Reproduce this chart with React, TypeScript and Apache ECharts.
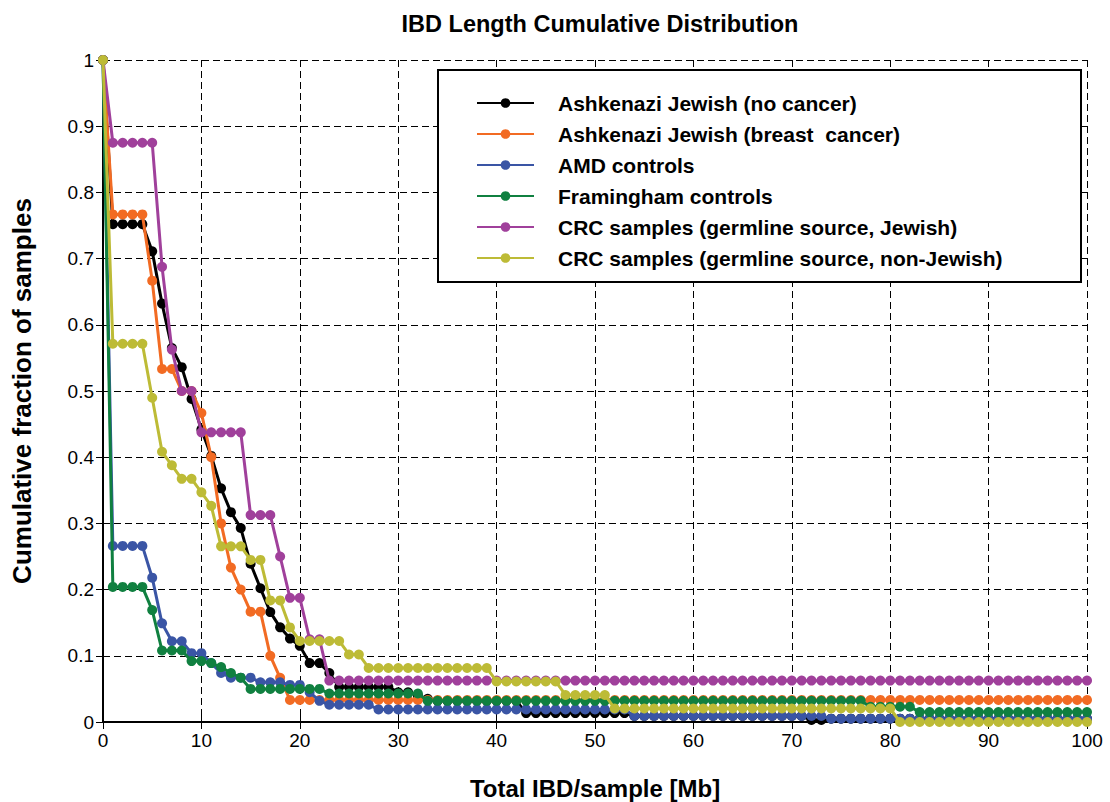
import React, { useEffect, useRef } from "react";
import * as echarts from "echarts";

const seriesNames = [
  "Ashkenazi Jewish (no cancer)",
  "Ashkenazi Jewish (breast  cancer)",
  "AMD controls",
  "Framingham controls",
  "CRC samples (germline source, Jewish)",
  "CRC samples (germline source, non-Jewish)",
];
const seriesColors = ["#000000", "#f26b23", "#3a55a5", "#108040", "#a0409b", "#bdbb36"];

const xTicks = [0, 10, 20, 30, 40, 50, 60, 70, 80, 90, 100];
const yTicks = [0, 0.1, 0.2, 0.3, 0.4, 0.5, 0.6, 0.7, 0.8, 0.9, 1];

// values at x = 0, 1, 2, ... 100 Mb
const ashkenaziNoCancer = [
  1, 0.752, 0.752, 0.752, 0.752, 0.711, 0.632, 0.565, 0.536, 0.488,
  0.442, 0.402, 0.353, 0.317, 0.293, 0.239, 0.202, 0.166, 0.143, 0.126,
  0.115, 0.089, 0.089, 0.074, 0.053, 0.053, 0.053, 0.053, 0.053, 0.053,
  0.045, 0.045, 0.04, 0.035, 0.032, 0.032, 0.032, 0.032, 0.032, 0.032,
  0.032, 0.032, 0.032, 0.0135, 0.0135, 0.0135, 0.0135, 0.0135, 0.0135, 0.0135,
  0.0135, 0.0135, 0.0135, 0.0135, 0.009, 0.009, 0.009, 0.009, 0.009, 0.009,
  0.009, 0.009, 0.009, 0.009, 0.009, 0.009, 0.009, 0.009, 0.009, 0.009,
  0.009, 0.009, 0.003, 0.003, 0.005, 0.005, 0.005, 0.005, 0.005, 0.005,
  0.005, 0.005, 0.005, 0.005, 0.005, 0.005, 0.005, 0.005, 0.005, 0.005,
  0.005, 0.005, 0.005, 0.005, 0.005, 0.005, 0.005, 0.005, 0.005, 0.005,
  0.005,
];
const ashkenaziBreastCancer = [
  1, 0.7667, 0.7667, 0.7667, 0.7667, 0.6667, 0.5333, 0.5333, 0.5, 0.5,
  0.4667, 0.4, 0.3, 0.2333, 0.2, 0.1667, 0.1667, 0.1, 0.0667, 0.0333,
  0.0333, 0.0333, 0.0333, 0.0333, 0.0333, 0.0333, 0.0333, 0.0333, 0.0333, 0.0333,
  0.0333, 0.0333, 0.0333, 0.0333, 0.0333, 0.0333, 0.0333, 0.0333, 0.0333, 0.0333,
  0.0333, 0.0333, 0.0333, 0.0333, 0.0333, 0.0333, 0.0333, 0.0333, 0.0333, 0.0333,
  0.0333, 0.0333, 0.0333, 0.0333, 0.0333, 0.0333, 0.0333, 0.0333, 0.0333, 0.0333,
  0.0333, 0.0333, 0.0333, 0.0333, 0.0333, 0.0333, 0.0333, 0.0333, 0.0333, 0.0333,
  0.0333, 0.0333, 0.0333, 0.0333, 0.0333, 0.0333, 0.0333, 0.0333, 0.0333, 0.0333,
  0.0333, 0.0333, 0.0333, 0.0333, 0.0333, 0.0333, 0.0333, 0.0333, 0.0333, 0.0333,
  0.0333, 0.0333, 0.0333, 0.0333, 0.0333, 0.0333, 0.0333, 0.0333, 0.0333, 0.0333,
  0.0333,
];
const amdControls = [
  1, 0.266, 0.266, 0.266, 0.266, 0.218, 0.149, 0.122, 0.122, 0.104,
  0.104, 0.089, 0.074, 0.067, 0.067, 0.067, 0.06, 0.06, 0.06, 0.056,
  0.056, 0.045, 0.032, 0.026, 0.026, 0.026, 0.026, 0.026, 0.019, 0.019,
  0.019, 0.019, 0.019, 0.019, 0.019, 0.019, 0.019, 0.019, 0.019, 0.019,
  0.019, 0.019, 0.019, 0.019, 0.019, 0.019, 0.019, 0.019, 0.019, 0.019,
  0.019, 0.019, 0.019, 0.019, 0.009, 0.009, 0.009, 0.009, 0.009, 0.009,
  0.009, 0.009, 0.009, 0.009, 0.009, 0.009, 0.009, 0.009, 0.009, 0.009,
  0.009, 0.009, 0.009, 0.009, 0.005, 0.005, 0.005, 0.005, 0.005, 0.005,
  0.005, 0.005, 0.005, 0.005, 0.005, 0.005, 0.005, 0.005, 0.005, 0.005,
  0.005, 0.005, 0.005, 0.005, 0.005, 0.005, 0.005, 0.005, 0.005, 0.005,
  0.005,
];
const framinghamControls = [
  1, 0.204, 0.204, 0.204, 0.204, 0.169, 0.108, 0.108, 0.108, 0.092,
  0.092, 0.089, 0.083, 0.074, 0.067, 0.05, 0.05, 0.05, 0.05, 0.05,
  0.05, 0.05, 0.05, 0.043, 0.043, 0.043, 0.043, 0.043, 0.043, 0.043,
  0.043, 0.043, 0.043, 0.032, 0.032, 0.032, 0.032, 0.032, 0.032, 0.032,
  0.032, 0.032, 0.032, 0.032, 0.032, 0.032, 0.032, 0.032, 0.032, 0.032,
  0.032, 0.032, 0.032, 0.032, 0.032, 0.032, 0.032, 0.032, 0.032, 0.032,
  0.032, 0.032, 0.032, 0.032, 0.032, 0.032, 0.032, 0.032, 0.032, 0.032,
  0.032, 0.032, 0.032, 0.032, 0.032, 0.032, 0.032, 0.032, 0.023, 0.023,
  0.023, 0.023, 0.023, 0.015, 0.015, 0.015, 0.015, 0.015, 0.015, 0.015,
  0.015, 0.015, 0.015, 0.015, 0.015, 0.015, 0.015, 0.015, 0.015, 0.015,
  0.015,
];
const crcJewish = [
  1, 0.875, 0.875, 0.875, 0.875, 0.875, 0.6875, 0.5625, 0.5, 0.5,
  0.4375, 0.4375, 0.4375, 0.4375, 0.4375, 0.3125, 0.3125, 0.3125, 0.25, 0.1875,
  0.1875, 0.125, 0.125, 0.0625, 0.0625, 0.0625, 0.0625, 0.0625, 0.0625, 0.0625,
  0.0625, 0.0625, 0.0625, 0.0625, 0.0625, 0.0625, 0.0625, 0.0625, 0.0625, 0.0625,
  0.0625, 0.0625, 0.0625, 0.0625, 0.0625, 0.0625, 0.0625, 0.0625, 0.0625, 0.0625,
  0.0625, 0.0625, 0.0625, 0.0625, 0.0625, 0.0625, 0.0625, 0.0625, 0.0625, 0.0625,
  0.0625, 0.0625, 0.0625, 0.0625, 0.0625, 0.0625, 0.0625, 0.0625, 0.0625, 0.0625,
  0.0625, 0.0625, 0.0625, 0.0625, 0.0625, 0.0625, 0.0625, 0.0625, 0.0625, 0.0625,
  0.0625, 0.0625, 0.0625, 0.0625, 0.0625, 0.0625, 0.0625, 0.0625, 0.0625, 0.0625,
  0.0625, 0.0625, 0.0625, 0.0625, 0.0625, 0.0625, 0.0625, 0.0625, 0.0625, 0.0625,
  0.0625,
];
const crcNonJewish = [
  1, 0.5714, 0.5714, 0.5714, 0.5714, 0.4898, 0.4082, 0.3878, 0.3673, 0.3673,
  0.3469, 0.3265, 0.2653, 0.2653, 0.2653, 0.2449, 0.2449, 0.1837, 0.1837, 0.1429,
  0.1224, 0.1224, 0.1224, 0.1224, 0.1224, 0.102, 0.102, 0.0816, 0.0816, 0.0816,
  0.0816, 0.0816, 0.0816, 0.0816, 0.0816, 0.0816, 0.0816, 0.0816, 0.0816, 0.0816,
  0.0612, 0.0612, 0.0612, 0.0612, 0.0612, 0.0612, 0.0612, 0.0408, 0.0408, 0.0408,
  0.0408, 0.0408, 0.0204, 0.0204, 0.0204, 0.0204, 0.0204, 0.0204, 0.0204, 0.0204,
  0.0204, 0.0204, 0.0204, 0.0204, 0.0204, 0.0204, 0.0204, 0.0204, 0.0204, 0.0204,
  0.0204, 0.0204, 0.0204, 0.0204, 0.0204, 0.0204, 0.0204, 0.0204, 0.0204, 0.0204,
  0.0204, 0, 0, 0, 0, 0, 0, 0, 0, 0,
  0, 0, 0, 0, 0, 0, 0, 0, 0, 0,
  0,
];

const seriesValues = [
  ashkenaziNoCancer,
  ashkenaziBreastCancer,
  amdControls,
  framinghamControls,
  crcJewish,
  crcNonJewish,
];

export default function App() {
  const ref = useRef<HTMLDivElement>(null);

  useEffect(() => {
    if (!ref.current) return;
    const chart = echarts.init(ref.current, null, { renderer: "svg" });
    const font = "'Liberation Sans', Arial, sans-serif";
    const gridLine = { show: true, lineStyle: { color: "#000", width: 1, type: [7, 4] } };

    chart.setOption({
      animation: false,
      backgroundColor: "#fff",
      title: {
        text: "IBD Length Cumulative Distribution",
        left: 595,
        top: 7,
        textAlign: "center",
        textStyle: { fontFamily: font, fontWeight: "bold", fontSize: 23.5, color: "#000" },
      },
      grid: { left: 103, right: 23, top: 60, bottom: 80, containLabel: false, outerBoundsMode: "none" },
      legend: {
        show: true,
        orient: "vertical",
        left: 476,
        top: 92,
        itemWidth: 57,
        itemHeight: 12,
        itemGap: 9,
        padding: 0,
        z: 10,
        data: seriesNames,
        textStyle: {
          fontFamily: font,
          fontWeight: "bold",
          fontSize: 21,
          lineHeight: 22,
          color: "#000",
          padding: [0, 0, 0, 19],
        },
      },
      graphic: [
        {
          type: "rect",
          left: 437,
          top: 69,
          z: 5,
          shape: { width: 643, height: 212 },
          style: { fill: "#fff", stroke: "#000", lineWidth: 2 },
        },
      ],
      xAxis: [
        {
          type: "value",
          min: 0,
          max: 100,
          interval: 10,
          name: "Total IBD/sample [Mb]",
          nameLocation: "middle",
          nameGap: 54,
          nameTextStyle: { fontFamily: font, fontWeight: "bold", fontSize: 24, color: "#000" },
          axisLine: { show: true, lineStyle: { color: "#000", width: 2 } },
          axisTick: { show: true, inside: true, length: 7, lineStyle: { color: "#000", width: 1 } },
          axisLabel: {
            show: true,
            margin: 9,
            fontFamily: font,
            fontSize: 19,
            color: "#000",
            customValues: xTicks,
          },
          splitLine: gridLine,
        },
        {
          type: "value",
          position: "top",
          min: 0,
          max: 100,
          interval: 10,
          axisLine: { show: true, lineStyle: { color: "#000", width: 2 } },
          axisTick: { show: true, inside: true, length: 7, lineStyle: { color: "#000", width: 1 } },
          axisLabel: { show: false },
          splitLine: { show: false },
        },
      ],
      yAxis: [
        {
          type: "value",
          min: 0,
          max: 1,
          interval: 0.1,
          name: "Cumulative fraction of samples",
          nameLocation: "middle",
          nameGap: 68,
          nameRotate: 90,
          nameTextStyle: { fontFamily: font, fontWeight: "bold", fontSize: 26, color: "#000" },
          axisLine: { show: true, lineStyle: { color: "#000", width: 2 } },
          axisTick: { show: true, inside: true, length: 7, lineStyle: { color: "#000", width: 1 } },
          axisLabel: {
            show: true,
            margin: 9,
            fontFamily: font,
            fontSize: 19,
            color: "#000",
            customValues: yTicks,
            formatter: (v: number) => String(Math.round(v * 10) / 10),
          },
          splitLine: gridLine,
        },
        {
          type: "value",
          position: "right",
          min: 0,
          max: 1,
          interval: 0.1,
          axisLine: { show: true, lineStyle: { color: "#000", width: 2 } },
          axisTick: { show: true, inside: true, length: 7, lineStyle: { color: "#000", width: 1 } },
          axisLabel: { show: false },
          splitLine: { show: false },
        },
      ],
      series: seriesNames.map((name, si) => ({
        name,
        type: "line",
        xAxisIndex: 0,
        yAxisIndex: 0,
        data: seriesValues[si].map((v, i) => [i, v]),
        symbol: "circle",
        symbolSize: 10,
        showSymbol: true,
        clip: false,
        z: 2 + si * 0.01,
        lineStyle: { color: seriesColors[si], width: 3 },
        itemStyle: { color: seriesColors[si] },
        emphasis: { disabled: true },
      })),
    });

    return () => chart.dispose();
  }, []);

  return (
    <div
      ref={ref}
      style={{ position: "fixed", left: 0, top: 0, width: 1110, height: 802, background: "#fff" }}
    />
  );
}
